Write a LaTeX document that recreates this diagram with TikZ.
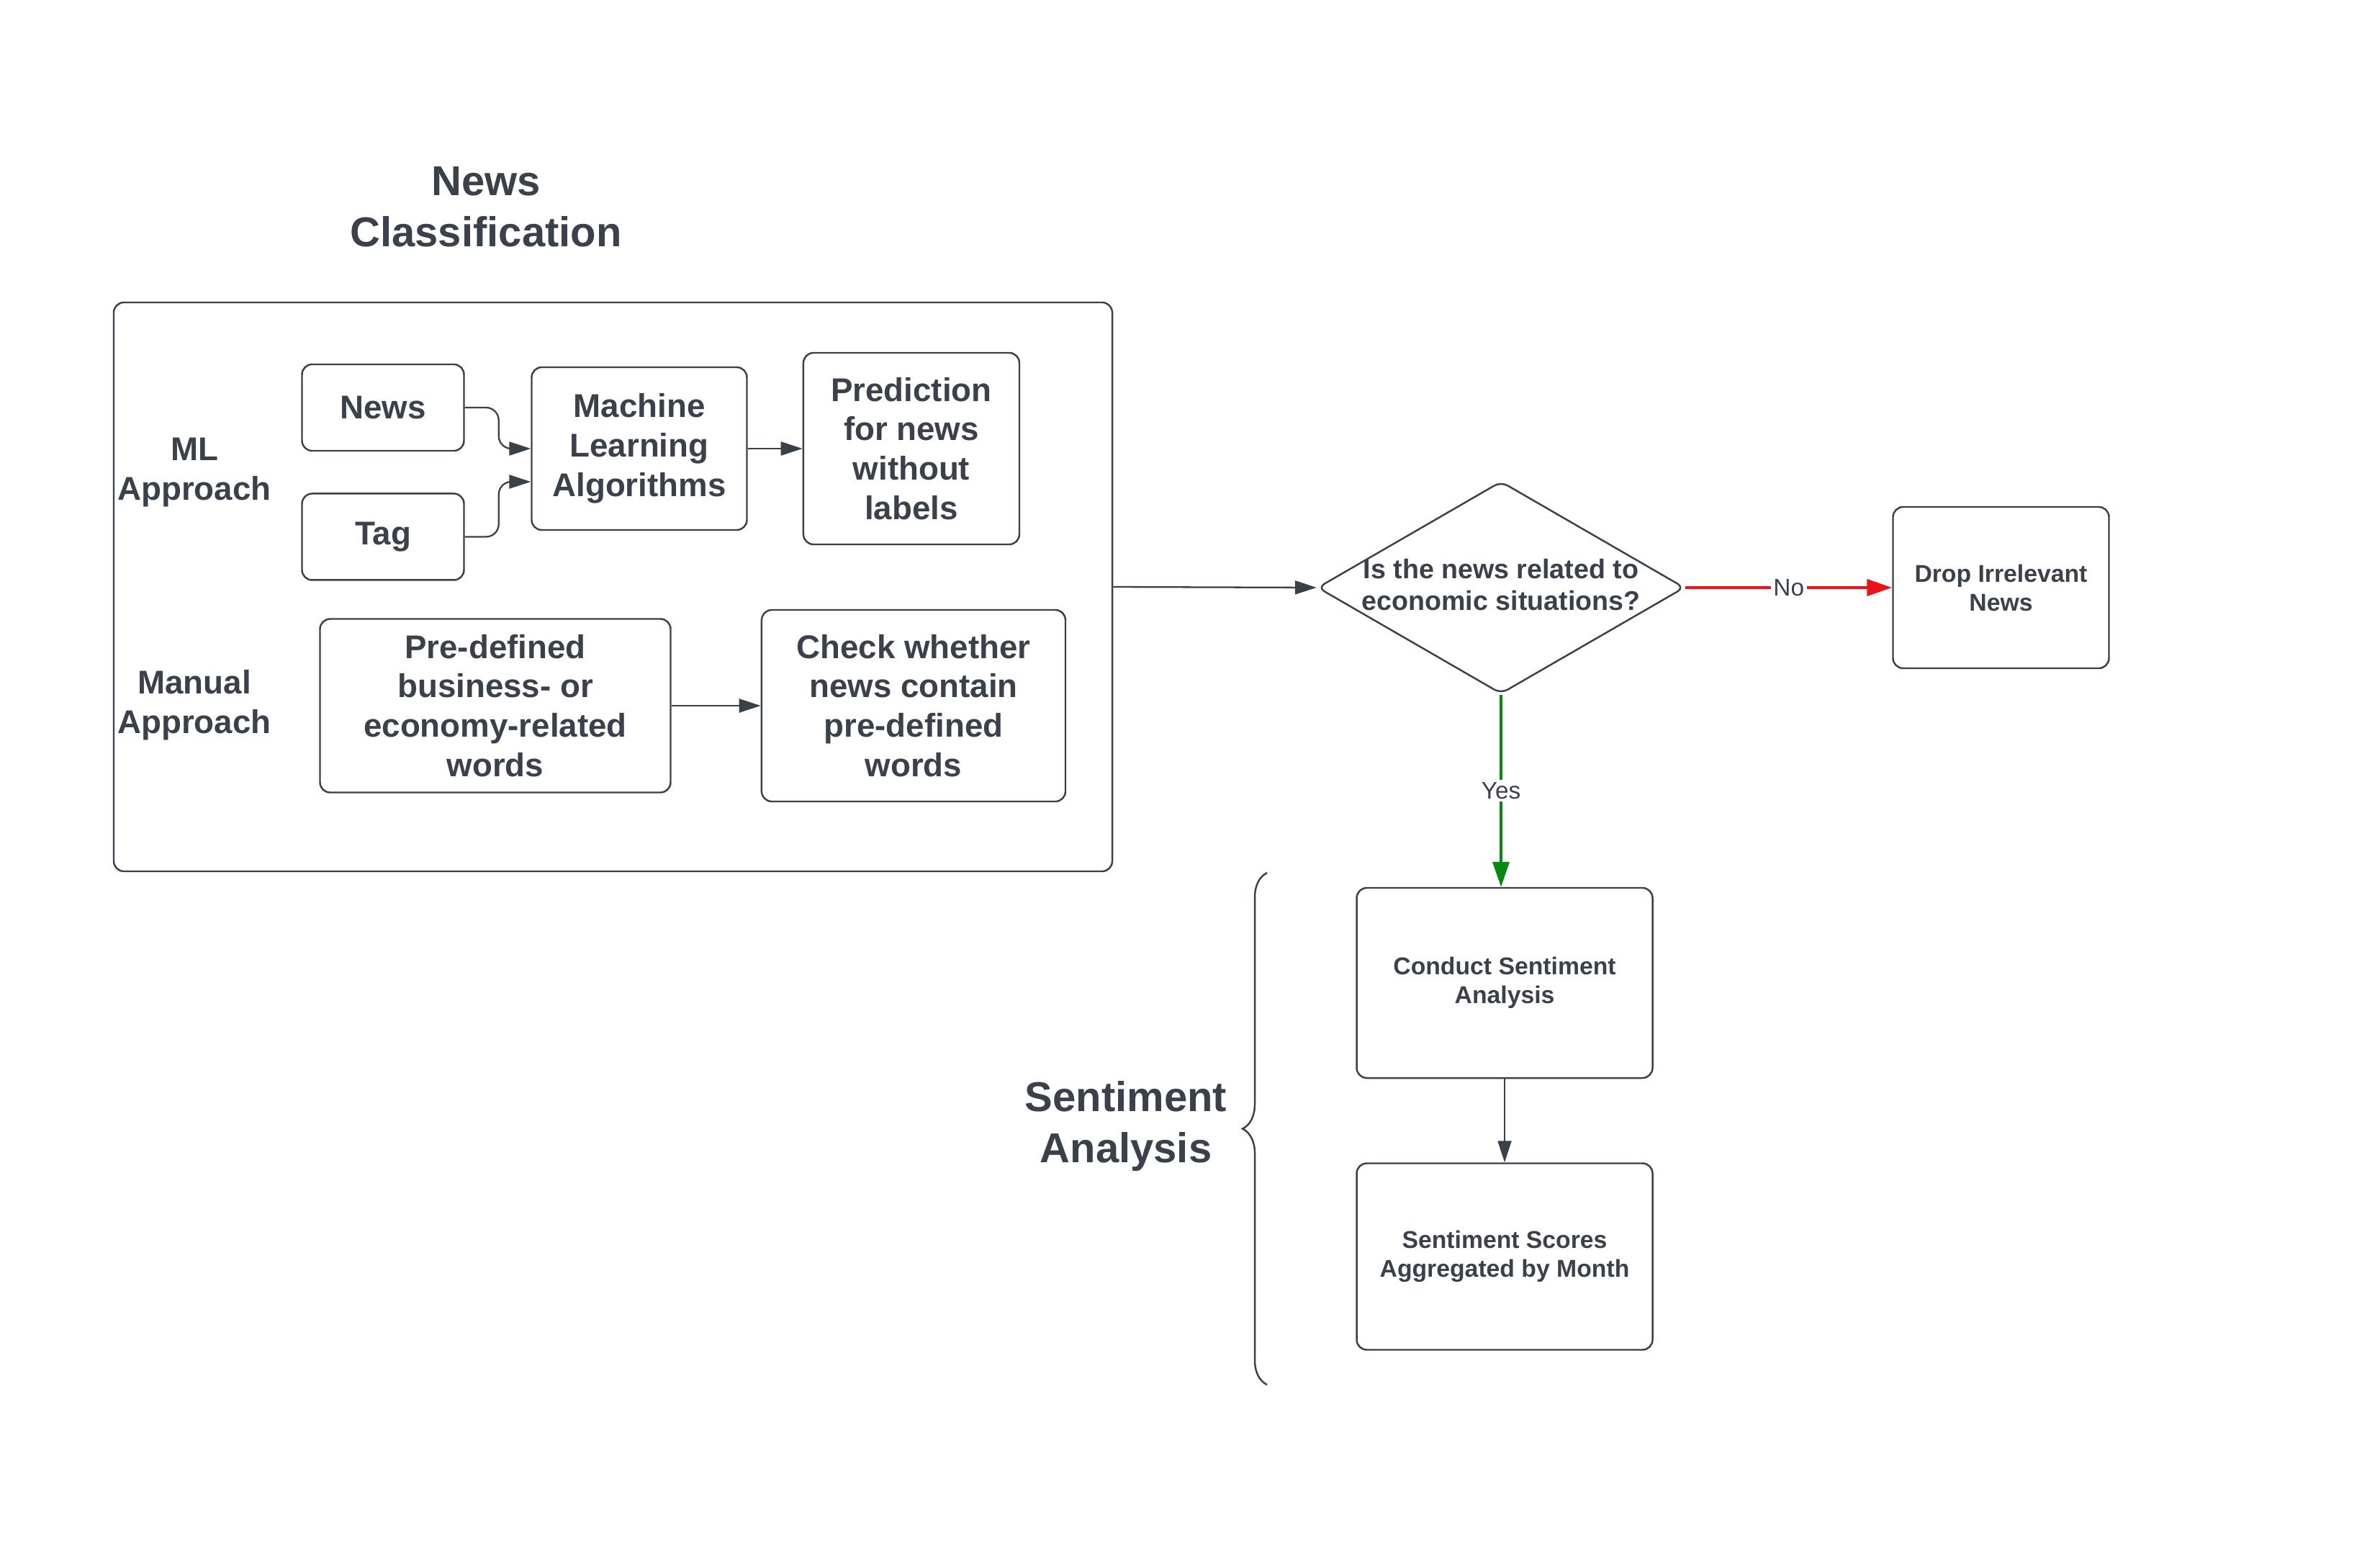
\documentclass[tikz,border=0pt]{standalone}
\usepackage{fontspec}
\setmainfont{Liberation Sans}
\usetikzlibrary{arrows.meta,positioning,shapes.geometric,decorations.pathreplacing}
\definecolor{ink}{HTML}{3A414A}
\definecolor{nored}{HTML}{E8161B}
\definecolor{yesgreen}{HTML}{068A12}

\begin{document}
\begin{tikzpicture}[
      box/.style={draw=ink, rounded corners=4pt, line width=0.7pt, text=ink, align=center,
          font=\fontsize{13}{15.6}\selectfont\bfseries, inner sep=2pt},
      smallbox/.style={box, font=\fontsize{9.6}{11.4}\selectfont\bfseries},
      side/.style={text=ink, align=center, font=\fontsize{13}{15.6}\selectfont\bfseries},
      title/.style={text=ink, align=center, font=\fontsize{16.5}{20.2}\selectfont\bfseries},
      decision/.style={draw=ink, diamond, line width=0.7pt, rounded corners=3pt,
          minimum width=5.1cm, minimum height=2.95cm, inner sep=0pt},
      dectext/.style={text=ink, align=center, font=\fontsize{10.7}{12.6}\selectfont\bfseries},
      lbl/.style={text=ink, fill=white, inner sep=1pt, font=\fontsize{9.5}{11}\selectfont},
      arr/.style={-{Triangle[length=0.30cm, width=0.19cm]}, ink, line width=0.65pt},
      noarr/.style={-{Triangle[length=0.35cm, width=0.23cm]}, nored, line width=1.15pt},
      yesarr/.style={-{Triangle[length=0.35cm, width=0.23cm]}, yesgreen, line width=1.15pt},
    ]
    \useasboundingbox (0,0) rectangle (33.06,-21.39);

    % news classification
    \node[title] (nctitle) at (6.75,-2.87) {News\\Classification};
    \node[draw=ink, line width=0.7pt, rounded corners=4pt, minimum width=13.87cm,
        minimum height=7.90cm] (ncframe) at (8.515,-8.15) {};

    \node[side] (mlside) at (2.70,-6.56) {ML\\Approach};
    \node[box, minimum width=2.25cm, minimum height=1.20cm] (news) at (5.32,-5.66) {News};
    \node[box, minimum width=2.25cm, minimum height=1.20cm, below=0.57cm of news] (tag) {Tag};
    \node[box, minimum width=2.99cm, minimum height=2.26cm] (mla) at (8.88,-6.23)
        {Machine\\Learning\\Algorithms};
    \node[box, minimum width=3.0cm, minimum height=2.66cm, right=0.76cm of mla] (pred)
        {Prediction\\for news\\without\\labels};
    \draw[arr, rounded corners=5pt] (news.east) -- ++(0.47,0) |- (mla.west);
    \draw[arr, rounded corners=5pt] (tag.east) -- ++(0.47,0) |- ([yshift=-0.46cm]mla.west);
    \draw[arr] (mla) -- (pred);

    \node[side] (manside) at (2.70,-9.79) {Manual\\Approach};
    \node[box, minimum width=4.87cm, minimum height=2.41cm] (predef) at (6.88,-9.80)
        {Pre-defined\\business- or\\economy-related\\words};
    \node[box, minimum width=4.22cm, minimum height=2.66cm, right=1.24cm of predef] (check)
        {Check whether\\news contain\\pre-defined\\words};
    \draw[arr] (predef) -- (check);

    % relevance check
    \node[decision] (dec) at (20.85,-8.16) {};
    \node[dectext, yshift=0.04cm] (dectxt) at (dec) {Is the news related to\\economic situations?};
    \draw[arr] (ncframe.east) -- (dec.west);

    \node[smallbox, minimum width=3.0cm, minimum height=2.24cm, right=2.87cm of dec] (drop)
        {Drop Irrelevant\\News};
    \draw[noarr] (dec.east) -- node[lbl] {No} (drop.west);

    % sentiment analysis
    \node[smallbox, minimum width=4.11cm, minimum height=2.64cm] (conduct) at (20.90,-13.65)
        {Conduct Sentiment\\Analysis};
    \node[smallbox, minimum width=4.11cm, minimum height=2.59cm, below=1.16cm of conduct] (scores)
        {Sentiment Scores\\Aggregated by Month};
    \draw[yesarr] (dec.south) -- node[lbl] {Yes} (dec.south |- conduct.north);
    \draw[arr] (conduct) -- (scores);

    \coordinate (bracetop) at (17.60,-12.12);
    \coordinate (bracebot) at (17.60,-19.23);
    \draw[ink, line width=0.7pt, decorate, decoration={brace, amplitude=0.34cm}] (bracebot) -- (bracetop);
    \node[title] (satitle) at (15.64,-15.64) {Sentiment\\Analysis};
  \end{tikzpicture}
\end{document}
